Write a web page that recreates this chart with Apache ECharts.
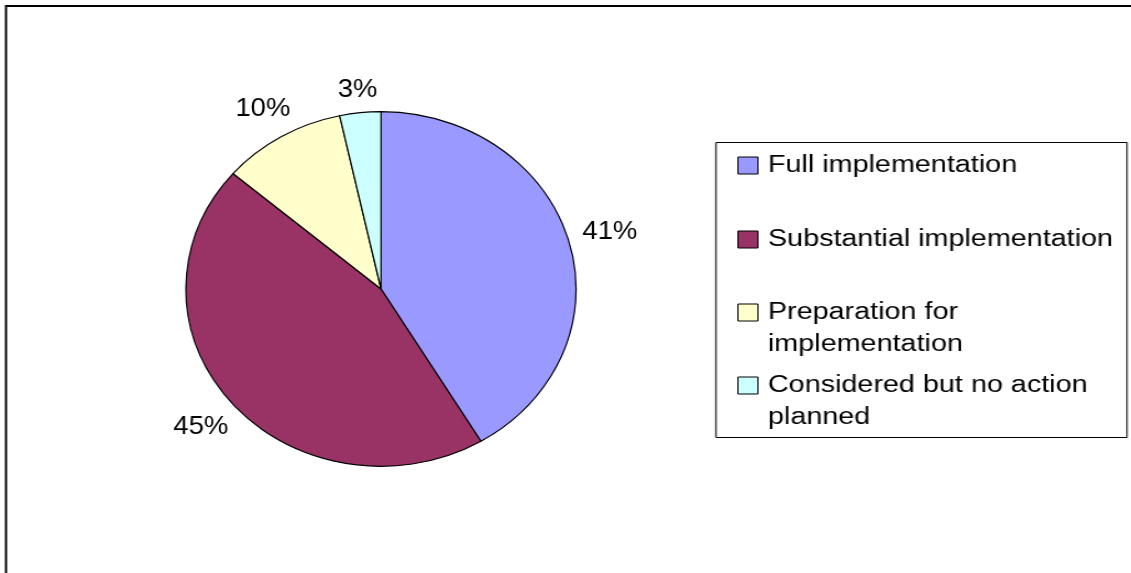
<!DOCTYPE html>
<html><head><meta charset="utf-8">
<script src="https://cdn.jsdelivr.net/npm/echarts@6/dist/echarts.min.js"></script>
<style>
html,body{margin:0;padding:0;background:#fff;width:1131px;height:573px;overflow:hidden;}
#pie{position:absolute;left:0;top:0;width:1028px;height:573px;transform:scaleX(1.1002);transform-origin:0 0;}
#leg{position:absolute;left:0;top:0;width:905px;height:573px;transform:scaleX(1.2497);transform-origin:0 0;}
</style></head><body>
<div id="pie"></div><div id="leg"></div>
<script>
const categories = ['Full implementation','Substantial implementation','Preparation for implementation','Considered but no action planned'];
const legendLabels = ['Full implementation','Substantial implementation','Preparation for\nimplementation','Considered but no action\nplanned'];
const shares = [41.4, 44.8, 10.3, 3.4];
const colors = ['#9999FF','#993366','#FFFFCC','#CCFFFF'];

const FONT = '"Liberation Sans", Arial, sans-serif';
const SX_PIE = 1.1002, SX_LEG = 1.2497;
const PCX = 381 / SX_PIE, PCY = 289, PR = 177.3, GAP = 12;
const pieData = categories.map((n, i) => ({ name: n, value: shares[i], itemStyle: { color: colors[i] } }));

const pieChart = echarts.init(document.getElementById('pie'), null, { renderer: 'canvas' });
pieChart.setOption({
  animation: false,
  graphic: [{ type: 'rect', silent: true, shape: { x: 6 / SX_PIE, y: 6, width: 3000, height: 1000 },
              style: { fill: 'none', stroke: '#000', lineWidth: 2 } }],
  series: [
    { type: 'pie', center: [PCX, PCY], radius: PR, startAngle: 90, clockwise: true,
      silent: true, data: pieData, itemStyle: { borderColor: '#000', borderWidth: 1.2 },
      label: { show: false }, labelLine: { show: false }, emphasis: { disabled: true } },
    { type: 'pie', center: [PCX, PCY], radius: [199, 225], startAngle: 90, clockwise: true,
      silent: true, data: pieData.map(d => ({ name: d.name, value: d.value })),
      itemStyle: { color: 'rgba(0,0,0,0)', borderWidth: 0 },
      label: { show: true, position: 'inside', rotate: 0, formatter: p => Math.round(p.value) + '%',
               fontSize: 25, fontFamily: FONT, color: '#000', textBorderWidth: 0 },
      labelLine: { show: false }, emphasis: { disabled: true },
      labelLayout: function (p) {
        const r = p.labelRect;
        const cx = r.x + r.width / 2, cy = r.y + r.height / 2;
        const dx = cx - PCX, dy = cy - PCY, L = Math.hypot(dx, dy) || 1;
        const ux = dx / L, uy = dy / L;
        const half = Math.abs(ux) * r.width / 2 + Math.abs(uy) * r.height * 0.35;
        const d = PR + GAP + half;
        return { x: PCX + ux * d, y: PCY + uy * d, align: 'center', verticalAlign: 'middle' };
      } }
  ]
});

const legendIconY = [165.5, 239.5, 312.5, 385.5];
const legChart = echarts.init(document.getElementById('leg'), null, { renderer: 'canvas' });
legChart.setOption({
  animation: false,
  graphic: [{ type: 'rect', silent: true, shape: { x: 716 / SX_LEG, y: 142.5, width: 411 / SX_LEG, height: 295 },
              style: { fill: 'none', stroke: '#000', lineWidth: 1 } }],
  legend: categories.map((n, i) => {
    const multi = legendLabels[i].indexOf('\n') >= 0;
    return {
      orient: 'vertical', left: 590, top: legendIconY[i] - (multi ? 48 : 16), padding: 0, itemGap: 0,
      itemWidth: 16, itemHeight: 17, icon: 'rect', selectedMode: false,
      data: [{ name: n, itemStyle: { color: colors[i], borderColor: '#000', borderWidth: 1 } }],
      formatter: () => (multi ? '\n' : '') + legendLabels[i],
      textStyle: { fontSize: 23, lineHeight: 32, fontFamily: FONT, color: '#000', padding: [0, 0, 0, 3] }
    };
  }),
  series: [{ type: 'pie', center: [-200, -200], radius: 0, silent: true,
             data: categories.map((n, i) => ({ name: n, value: shares[i] })),
             label: { show: false }, labelLine: { show: false } }]
});
</script></body></html>
